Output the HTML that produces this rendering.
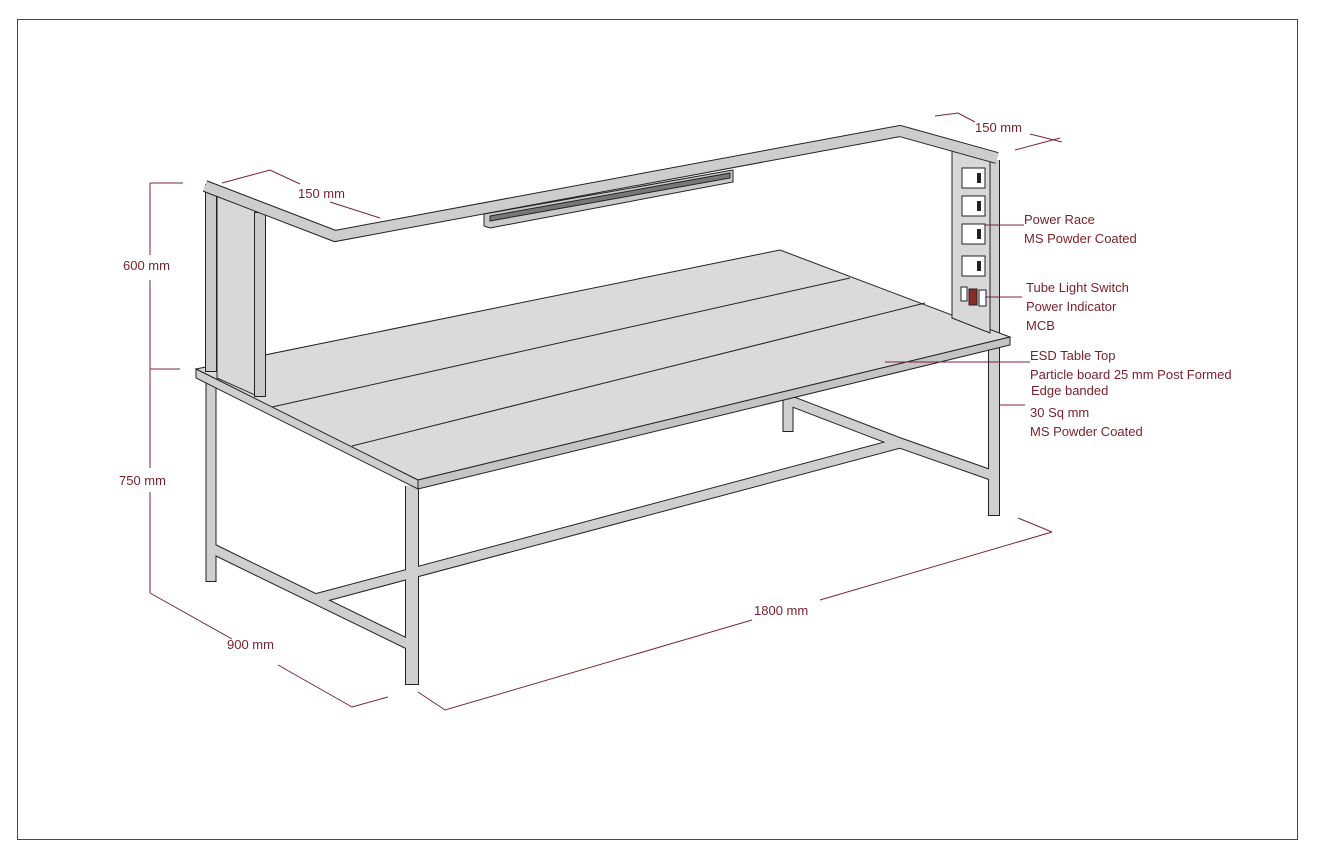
<!DOCTYPE html>
<html><head><meta charset="utf-8"><style>
html,body{margin:0;padding:0;background:#fff}
svg{display:block}
text{font-family:"Liberation Sans",sans-serif;font-size:13px;fill:#7a1f2a}
</style></head><body>
<svg width="1322" height="864" viewBox="0 0 1322 864" xmlns="http://www.w3.org/2000/svg">
<rect x="17.5" y="19.5" width="1280" height="820" fill="none" stroke="#8b2a36" stroke-width="1"/>
<g fill="none" stroke-linejoin="miter" stroke-linecap="butt">
<g stroke="#222" stroke-width="11">
<path d="M788,398 L788,432"/>
<path d="M788,400 L900,443 L994,476"/>
<path d="M315,599 L900,443"/>
<path d="M211,548 L410,645"/>
<path d="M211,372 L211,582"/>
<path d="M412,486 L412,685" stroke-width="14"/>
<path d="M994,160 L994,516" stroke-width="12"/>
</g>
<g stroke="#cfcfcf" stroke-width="9">
<path d="M788,398 L788,431"/>
<path d="M788,400 L900,443 L994,476"/>
<path d="M315,599 L900,443"/>
<path d="M211,548 L410,645"/>
<path d="M211,372 L211,581"/>
<path d="M412,486 L412,684" stroke-width="12"/>
<path d="M994,160 L994,515" stroke-width="10"/>
</g>
</g>
<polygon points="196,369 780,250 1010,337 418,480" fill="#dadada" stroke="#222"/>
<polygon points="196,369 418,480 418,489 196,378" fill="#cfcfcf" stroke="#222"/>
<polygon points="418,480 1010,337 1010,345 418,489" fill="#c4c4c4" stroke="#222"/>
<path d="M272,407 L850,278 M352,446 L925,303" stroke="#222"/>
<polygon points="217,192 255,208 255,395 217,378" fill="#d8d8d8" stroke="#222"/>
<g fill="none">
<path d="M211,184 L211,372 M260,212 L260,397" stroke="#222" stroke-width="12"/>
<path d="M211,185 L211,371 M260,213 L260,396" stroke="#c9c9c9" stroke-width="10"/>
</g>
<polygon points="952,150 990,160 990,333 952,318" fill="#d8d8d8" stroke="#222"/>
<g fill="#fff" stroke="#222">
<rect x="962" y="168" width="23" height="20"/>
<rect x="962" y="196" width="23" height="20"/>
<rect x="962" y="224" width="23" height="20"/>
<rect x="962" y="256" width="23" height="20"/>
<rect x="961" y="287" width="6" height="14"/>
<rect x="969" y="289" width="8" height="16" fill="#8b2a2a"/>
<rect x="979" y="290" width="7" height="16"/>
</g>
<g fill="#222">
<rect x="977" y="173" width="4" height="10"/><rect x="977" y="201" width="4" height="10"/>
<rect x="977" y="229" width="4" height="10"/><rect x="977" y="261" width="4" height="10"/>
</g>
<path d="M205,186 L335,236 L900,131 L997,158" fill="none" stroke="#222" stroke-width="12"/>
<path d="M205,186 L335,236 L900,131 L997,158" fill="none" stroke="#cdcdcd" stroke-width="10"/>
<polygon points="484,214 733,170 733,182 490,228 484,226" fill="#c9c9c9" stroke="#222"/>
<polygon points="490,216 730,173 730,178 490,221" fill="#777" stroke="#222"/>
<g stroke="#7b2634" stroke-width="1" fill="none">
<path d="M150,183 L150,255 M150,280 L150,468 M150,492 L150,593"/>
<path d="M150,183 L183,183 M150,369 L180,369"/>
<path d="M150,593 L232,639 M278,665 L352,707 M352,707 L388,697"/>
<path d="M418,692 L445,710 L752,620 M820,600 L1052,532 M1018,518 L1052,532"/>
<path d="M222,183 L270,170 L300,184 M330,202 L380,218"/>
<path d="M935,116 L958,113 L975,122 M1030,134 L1062,142 M1015,150 L1060,138"/>
<path d="M985,225 L1024,225 M985,297 L1022,297 M885,362 L1030,362 M1000,405 L1025,405"/>
</g>
<text x="123" y="270">600 mm</text>
<text x="119" y="485">750 mm</text>
<text x="227" y="649">900 mm</text>
<text x="754" y="615">1800 mm</text>
<text x="298" y="198">150 mm</text>
<text x="975" y="132">150 mm</text>
<text x="1024" y="224">Power Race</text>
<text x="1024" y="243">MS Powder Coated</text>
<text x="1026" y="292">Tube Light Switch</text>
<text x="1026" y="311">Power Indicator</text>
<text x="1026" y="330">MCB</text>
<text x="1030" y="360">ESD Table Top</text>
<text x="1030" y="379">Particle board 25 mm Post Formed</text>
<text x="1031" y="395">Edge banded</text>
<text x="1030" y="417">30 Sq mm</text>
<text x="1030" y="436">MS Powder Coated</text>
</svg>
</body></html>
